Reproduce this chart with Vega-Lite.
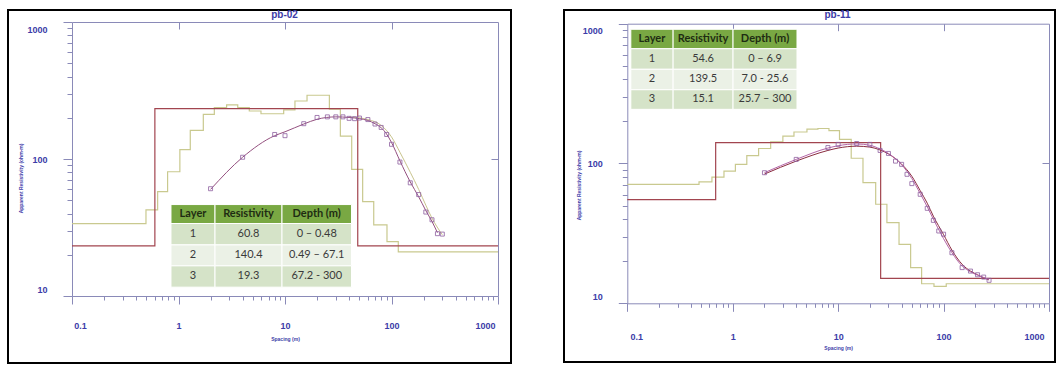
{
  "$schema": "https://vega.github.io/schema/vega-lite/v6.json",
  "background": "white",
  "padding": {"left": 7, "top": 9, "right": 0, "bottom": 0},
  "spacing": 51,
  "config": {
    "view": {"stroke": "#000000", "strokeWidth": 2},
    "font": "Liberation Sans",
    "axis": {
      "domainColor": "#8a8ab8", "tickColor": "#8a8ab8", "labelColor": "#3c3ca8",
      "labelFont": "Liberation Sans", "labelFontWeight": "bold", "labelFontSize": 9,
      "titleColor": "#3c3ca8", "titleFont": "Liberation Sans", "titleFontSize": 5, "titleFontWeight": "bold",
      "grid": false, "labelOverlap": false, "labelFlush": false
    },
    "title": {"color": "#3c3ca8", "font": "Liberation Sans", "fontWeight": "bold", "fontSize": 10, "anchor": "middle"}
  },
  "datasets": {
    "pb02": [
      {"s": "model", "x": 0.1, "y": 23.2}, {"s": "model", "x": 0.6, "y": 233}, {"s": "model", "x": 48.2, "y": 23.2}, {"s": "model", "x": 1000, "y": 23.2},
      {"s": "equiv", "x": 0.1, "y": 33.7}, {"s": "equiv", "x": 0.495, "y": 42.5}, {"s": "equiv", "x": 0.637, "y": 57.7}, {"s": "equiv", "x": 0.79, "y": 80.7},
      {"s": "equiv", "x": 1.03, "y": 117}, {"s": "equiv", "x": 1.29, "y": 162}, {"s": "equiv", "x": 1.71, "y": 212}, {"s": "equiv", "x": 2.17, "y": 237},
      {"s": "equiv", "x": 2.83, "y": 248}, {"s": "equiv", "x": 3.6, "y": 237}, {"s": "equiv", "x": 4.62, "y": 224}, {"s": "equiv", "x": 5.95, "y": 214},
      {"s": "equiv", "x": 9.72, "y": 228}, {"s": "equiv", "x": 12.4, "y": 265}, {"s": "equiv", "x": 16.1, "y": 292}, {"s": "equiv", "x": 26.1, "y": 231},
      {"s": "equiv", "x": 33.1, "y": 147}, {"s": "equiv", "x": 42.3, "y": 84.1}, {"s": "equiv", "x": 53.6, "y": 48.8}, {"s": "equiv", "x": 68.1, "y": 33},
      {"s": "equiv", "x": 90.7, "y": 24.9}, {"s": "equiv", "x": 115.8, "y": 21.0}, {"s": "equiv", "x": 1000, "y": 21.0},
      {"s": "obs", "x": 2, "y": 60.7}, {"s": "obs", "x": 4, "y": 103}, {"s": "obs", "x": 8, "y": 151}, {"s": "obs", "x": 10, "y": 148},
      {"s": "obs", "x": 15, "y": 181}, {"s": "obs", "x": 20, "y": 201}, {"s": "obs", "x": 25, "y": 203}, {"s": "obs", "x": 30, "y": 203},
      {"s": "obs", "x": 35, "y": 203}, {"s": "obs", "x": 40, "y": 198}, {"s": "obs", "x": 45, "y": 197}, {"s": "obs", "x": 50, "y": 199},
      {"s": "obs", "x": 60, "y": 194}, {"s": "obs", "x": 70, "y": 180}, {"s": "obs", "x": 80, "y": 170}, {"s": "obs", "x": 90, "y": 151},
      {"s": "obs", "x": 100, "y": 128}, {"s": "obs", "x": 120, "y": 95}, {"s": "obs", "x": 150, "y": 67}, {"s": "obs", "x": 180, "y": 55},
      {"s": "obs", "x": 210, "y": 41}, {"s": "obs", "x": 240, "y": 36}, {"s": "obs", "x": 270, "y": 28.5}, {"s": "obs", "x": 300, "y": 28.3},
      {"s": "calc", "x": 2, "y": 60}, {"s": "calc", "x": 4, "y": 103}, {"s": "calc", "x": 8, "y": 148}, {"s": "calc", "x": 10, "y": 158},
      {"s": "calc", "x": 15, "y": 180}, {"s": "calc", "x": 20, "y": 195}, {"s": "calc", "x": 30, "y": 203}, {"s": "calc", "x": 40, "y": 201},
      {"s": "calc", "x": 50, "y": 197}, {"s": "calc", "x": 60, "y": 191}, {"s": "calc", "x": 70, "y": 181}, {"s": "calc", "x": 80, "y": 169},
      {"s": "calc", "x": 90, "y": 152}, {"s": "calc", "x": 100, "y": 132}, {"s": "calc", "x": 120, "y": 97}, {"s": "calc", "x": 150, "y": 68},
      {"s": "calc", "x": 180, "y": 53}, {"s": "calc", "x": 210, "y": 42}, {"s": "calc", "x": 240, "y": 35}, {"s": "calc", "x": 270, "y": 29},
      {"s": "calc2", "x": 40, "y": 203}, {"s": "calc2", "x": 60, "y": 194}, {"s": "calc2", "x": 80, "y": 176}, {"s": "calc2", "x": 100, "y": 145},
      {"s": "calc2", "x": 120, "y": 112}, {"s": "calc2", "x": 150, "y": 80}, {"s": "calc2", "x": 180, "y": 60}, {"s": "calc2", "x": 210, "y": 46},
      {"s": "calc2", "x": 240, "y": 37}, {"s": "calc2", "x": 300, "y": 28}
    ],
    "pb02_table": [
      {"tr": "header", "col": "Layer", "text": "Layer", "s0": 0.85, "s1": 2.202, "sc": 1.368, "r0": 46.5, "r1": 33.8, "rc": 39.6},
      {"tr": "header", "col": "Resistivity", "text": "Resistivity", "s0": 2.202, "s1": 9.37, "sc": 4.54, "r0": 46.5, "r1": 33.8, "rc": 39.6},
      {"tr": "header", "col": "Depth", "text": "Depth (m)", "s0": 9.37, "s1": 42.1, "sc": 19.86, "r0": 46.5, "r1": 33.8, "rc": 39.6},
      {"tr": "1", "col": "Layer", "text": "1", "s0": 0.85, "s1": 2.202, "sc": 1.368, "r0": 33.8, "r1": 23.6, "rc": 28.2},
      {"tr": "1", "col": "Resistivity", "text": "60.8", "s0": 2.202, "s1": 9.37, "sc": 4.54, "r0": 33.8, "r1": 23.6, "rc": 28.2},
      {"tr": "1", "col": "Depth", "text": "0 – 0.48", "s0": 9.37, "s1": 42.1, "sc": 19.86, "r0": 33.8, "r1": 23.6, "rc": 28.2},
      {"tr": "2", "col": "Layer", "text": "2", "s0": 0.85, "s1": 2.202, "sc": 1.368, "r0": 23.6, "r1": 16.6, "rc": 19.8},
      {"tr": "2", "col": "Resistivity", "text": "140.4", "s0": 2.202, "s1": 9.37, "sc": 4.54, "r0": 23.6, "r1": 16.6, "rc": 19.8},
      {"tr": "2", "col": "Depth", "text": "0.49 – 67.1", "s0": 9.37, "s1": 42.1, "sc": 19.86, "r0": 23.6, "r1": 16.6, "rc": 19.8},
      {"tr": "3", "col": "Layer", "text": "3", "s0": 0.85, "s1": 2.202, "sc": 1.368, "r0": 16.6, "r1": 11.6, "rc": 13.9},
      {"tr": "3", "col": "Resistivity", "text": "19.3", "s0": 2.202, "s1": 9.37, "sc": 4.54, "r0": 16.6, "r1": 11.6, "rc": 13.9},
      {"tr": "3", "col": "Depth", "text": "67.2 - 300", "s0": 9.37, "s1": 42.1, "sc": 19.86, "r0": 16.6, "r1": 11.6, "rc": 13.9}
    ],
    "pb11": [
      {"s": "model", "x": 0.1, "y": 55.1}, {"s": "model", "x": 0.689, "y": 141}, {"s": "model", "x": 25.3, "y": 15.1}, {"s": "model", "x": 1000, "y": 15.1},
      {"s": "equiv", "x": 0.1, "y": 71.0}, {"s": "equiv", "x": 0.479, "y": 73.8}, {"s": "equiv", "x": 0.635, "y": 80.0}, {"s": "equiv", "x": 0.826, "y": 88.3},
      {"s": "equiv", "x": 1.06, "y": 98.6}, {"s": "equiv", "x": 1.36, "y": 114}, {"s": "equiv", "x": 1.76, "y": 128}, {"s": "equiv", "x": 2.29, "y": 143},
      {"s": "equiv", "x": 2.99, "y": 157}, {"s": "equiv", "x": 3.81, "y": 168}, {"s": "equiv", "x": 5.06, "y": 176}, {"s": "equiv", "x": 6.43, "y": 178},
      {"s": "equiv", "x": 8.18, "y": 172}, {"s": "equiv", "x": 10.3, "y": 149}, {"s": "equiv", "x": 13.3, "y": 109}, {"s": "equiv", "x": 17.2, "y": 72.9},
      {"s": "equiv", "x": 22.7, "y": 51.1}, {"s": "equiv", "x": 29.0, "y": 37.8}, {"s": "equiv", "x": 37.8, "y": 26.4}, {"s": "equiv", "x": 48.7, "y": 18.0},
      {"s": "equiv", "x": 61.9, "y": 13.8}, {"s": "equiv", "x": 81.1, "y": 13.2}, {"s": "equiv", "x": 106, "y": 13.8}, {"s": "equiv", "x": 1000, "y": 13.8},
      {"s": "obs", "x": 2, "y": 85.9}, {"s": "obs", "x": 4, "y": 107}, {"s": "obs", "x": 8, "y": 130}, {"s": "obs", "x": 10, "y": 137},
      {"s": "obs", "x": 15, "y": 139}, {"s": "obs", "x": 20, "y": 137}, {"s": "obs", "x": 25, "y": 124}, {"s": "obs", "x": 30, "y": 118},
      {"s": "obs", "x": 35, "y": 104}, {"s": "obs", "x": 40, "y": 98.6}, {"s": "obs", "x": 45, "y": 83.7}, {"s": "obs", "x": 50, "y": 71.8},
      {"s": "obs", "x": 60, "y": 60.2}, {"s": "obs", "x": 70, "y": 47.8}, {"s": "obs", "x": 80, "y": 39.2}, {"s": "obs", "x": 90, "y": 32.9},
      {"s": "obs", "x": 100, "y": 31.2}, {"s": "obs", "x": 120, "y": 23.0}, {"s": "obs", "x": 150, "y": 18.0}, {"s": "obs", "x": 180, "y": 17.0},
      {"s": "obs", "x": 210, "y": 16.0}, {"s": "obs", "x": 240, "y": 15.4}, {"s": "obs", "x": 270, "y": 14.6},
      {"s": "calc", "x": 2, "y": 86}, {"s": "calc", "x": 4, "y": 107}, {"s": "calc", "x": 8, "y": 129}, {"s": "calc", "x": 10, "y": 134},
      {"s": "calc", "x": 15, "y": 138}, {"s": "calc", "x": 20, "y": 135}, {"s": "calc", "x": 25, "y": 127}, {"s": "calc", "x": 30, "y": 118},
      {"s": "calc", "x": 40, "y": 98}, {"s": "calc", "x": 50, "y": 78}, {"s": "calc", "x": 60, "y": 61}, {"s": "calc", "x": 70, "y": 49},
      {"s": "calc", "x": 80, "y": 40}, {"s": "calc", "x": 100, "y": 29}, {"s": "calc", "x": 120, "y": 23}, {"s": "calc", "x": 150, "y": 18.5},
      {"s": "calc", "x": 180, "y": 16.8}, {"s": "calc", "x": 210, "y": 15.9}, {"s": "calc", "x": 240, "y": 15.3}, {"s": "calc", "x": 270, "y": 14.8},
      {"s": "calc2", "x": 2, "y": 84}, {"s": "calc2", "x": 4, "y": 104}, {"s": "calc2", "x": 8, "y": 124}, {"s": "calc2", "x": 10, "y": 129},
      {"s": "calc2", "x": 15, "y": 133}, {"s": "calc2", "x": 20, "y": 131}, {"s": "calc2", "x": 25, "y": 125}, {"s": "calc2", "x": 30, "y": 117},
      {"s": "calc2", "x": 40, "y": 99}, {"s": "calc2", "x": 50, "y": 81}, {"s": "calc2", "x": 60, "y": 64}, {"s": "calc2", "x": 70, "y": 52},
      {"s": "calc2", "x": 80, "y": 42}, {"s": "calc2", "x": 100, "y": 31}, {"s": "calc2", "x": 120, "y": 24}, {"s": "calc2", "x": 150, "y": 19},
      {"s": "calc2", "x": 180, "y": 17}, {"s": "calc2", "x": 210, "y": 16}, {"s": "calc2", "x": 240, "y": 15.2}, {"s": "calc2", "x": 270, "y": 14.7}
    ],
    "pb11_table": [
      {"tr": "header", "col": "Layer", "text": "Layer", "s0": 0.108, "s1": 0.272, "sc": 0.1714, "r0": 912, "r1": 662, "rc": 777},
      {"tr": "header", "col": "Resistivity", "text": "Resistivity", "s0": 0.272, "s1": 1.007, "sc": 0.5234, "r0": 912, "r1": 662, "rc": 777},
      {"tr": "header", "col": "Depth", "text": "Depth (m)", "s0": 1.007, "s1": 4.07, "sc": 2.024, "r0": 912, "r1": 662, "rc": 777},
      {"tr": "1", "col": "Layer", "text": "1", "s0": 0.108, "s1": 0.272, "sc": 0.1714, "r0": 662, "r1": 472, "rc": 559},
      {"tr": "1", "col": "Resistivity", "text": "54.6", "s0": 0.272, "s1": 1.007, "sc": 0.5234, "r0": 662, "r1": 472, "rc": 559},
      {"tr": "1", "col": "Depth", "text": "0 – 6.9", "s0": 1.007, "s1": 4.07, "sc": 2.024, "r0": 662, "r1": 472, "rc": 559},
      {"tr": "2", "col": "Layer", "text": "2", "s0": 0.108, "s1": 0.272, "sc": 0.1714, "r0": 472, "r1": 337, "rc": 399},
      {"tr": "2", "col": "Resistivity", "text": "139.5", "s0": 0.272, "s1": 1.007, "sc": 0.5234, "r0": 472, "r1": 337, "rc": 399},
      {"tr": "2", "col": "Depth", "text": "7.0 - 25.6", "s0": 1.007, "s1": 4.07, "sc": 2.024, "r0": 472, "r1": 337, "rc": 399},
      {"tr": "3", "col": "Layer", "text": "3", "s0": 0.108, "s1": 0.272, "sc": 0.1714, "r0": 337, "r1": 244, "rc": 287},
      {"tr": "3", "col": "Resistivity", "text": "15.1", "s0": 0.272, "s1": 1.007, "sc": 0.5234, "r0": 337, "r1": 244, "rc": 287},
      {"tr": "3", "col": "Depth", "text": "25.7 – 300", "s0": 1.007, "s1": 4.07, "sc": 2.024, "r0": 337, "r1": 244, "rc": 287}
    ]
  },
  "hconcat": [
    {
      "width": 503, "height": 353,
      "title": {"text": "pb-02", "offset": -10, "dx": 25},
      "resolve": {"axis": {"x": "independent", "y": "independent"}},
      "layer": [
        {
          "data": {"name": "pb02_table"},
          "mark": {"type": "rect", "stroke": "white", "strokeWidth": 1},
          "encoding": {
            "x": {"field": "s0", "type": "quantitative", "scale": {"type": "log", "domain": [0.1, 1000], "range": [64, 490], "nice": false}, "axis": null},
            "x2": {"field": "s1"},
            "y": {"field": "r0", "type": "quantitative", "scale": {"type": "log", "domain": [10, 1000], "range": [286, 12], "nice": false}, "axis": null},
            "y2": {"field": "r1"},
            "color": {"field": "tr", "type": "nominal", "scale": {"domain": ["header", "1", "2", "3"], "range": ["#79a843", "#d5e3c8", "#ebf1e6", "#d5e3c8"]}, "legend": null}
          }
        },
        {
          "data": {"name": "pb02"},
          "transform": [{"filter": "datum.s == 'equiv'"}],
          "mark": {"type": "line", "interpolate": "step-after", "color": "#c9c98f", "strokeWidth": 1.2},
          "encoding": {
            "x": {"field": "x", "type": "quantitative", "scale": {"type": "log", "domain": [0.1, 1000], "range": [64, 490], "nice": false},
              "axis": {"orient": "bottom", "offset": -67,
                "values": [0.1,0.2,0.3,0.4,0.5,0.6,0.7,0.8,0.9,1,2,3,4,5,6,7,8,9,10,20,30,40,50,60,70,80,90,100,200,300,400,500,600,700,800,900,1000],
                "labelExpr": "indexof([0.1,1,10,100,1000], datum.value) >= 0 ? format(datum.value, '~g') : ''",
                "tickSize": {"condition": {"test": "indexof([0.1,1,10,100,1000], datum.value) >= 0", "value": 8}, "value": 4},
                "labelOffset": {"condition": [{"test": "datum.value == 0.1", "value": 8}, {"test": "datum.value == 1000", "value": -13}], "value": 0},
                "labelPadding": 17,
                "title": "Spacing (m)", "titlePadding": 6}},
            "y": {"field": "y", "type": "quantitative", "scale": {"type": "log", "domain": [10, 1000], "range": [286, 12], "nice": false},
              "axis": {"orient": "left", "offset": -64,
                "values": [10,20,30,40,50,60,70,80,90,100,200,300,400,500,600,700,800,900,1000],
                "labelExpr": "indexof([10,100,1000], datum.value) >= 0 ? format(datum.value, '~g') : ''",
                "tickSize": {"condition": {"test": "indexof([10,100,1000], datum.value) >= 0", "value": 9}, "value": 5},
                "labelOffset": {"condition": [{"test": "datum.value == 1000", "value": 7}, {"test": "datum.value == 10", "value": -7}], "value": 0},
                "labelPadding": 16,
                "title": "Apparent Resistivity (ohm-m)", "titleX": -49, "titleY": 168}}
          }
        },
        {
          "data": {"name": "pb02"},
          "transform": [{"filter": "datum.s == 'model'"}],
          "mark": {"type": "line", "interpolate": "step-after", "color": "#a2454f", "strokeWidth": 1.2},
          "encoding": {
            "x": {"field": "x", "type": "quantitative", "scale": {"type": "log", "domain": [0.1, 1000], "range": [64, 490], "nice": false},
              "axis": {"orient": "top", "offset": -12, "values": [1, 10, 100], "labels": false, "tickSize": -7, "title": null}},
            "y": {"field": "y", "type": "quantitative", "scale": {"type": "log", "domain": [10, 1000], "range": [286, 12], "nice": false},
              "axis": {"orient": "right", "offset": -13, "values": [100], "labels": false, "tickSize": -7, "title": null}}
          }
        },
        {
          "data": {"name": "pb02"},
          "transform": [{"filter": "datum.s == 'calc2'"}],
          "mark": {"type": "line", "interpolate": "monotone", "color": "#c9c48e", "strokeWidth": 1},
          "encoding": {
            "x": {"field": "x", "type": "quantitative", "scale": {"type": "log", "domain": [0.1, 1000], "range": [64, 490], "nice": false}, "axis": null},
            "y": {"field": "y", "type": "quantitative", "scale": {"type": "log", "domain": [10, 1000], "range": [286, 12], "nice": false}, "axis": null}
          }
        },
        {
          "data": {"name": "pb02"},
          "transform": [{"filter": "datum.s == 'calc'"}],
          "mark": {"type": "line", "interpolate": "monotone", "color": "#94507f", "strokeWidth": 1},
          "encoding": {
            "x": {"field": "x", "type": "quantitative", "scale": {"type": "log", "domain": [0.1, 1000], "range": [64, 490], "nice": false}, "axis": null},
            "y": {"field": "y", "type": "quantitative", "scale": {"type": "log", "domain": [10, 1000], "range": [286, 12], "nice": false}, "axis": null}
          }
        },
        {
          "data": {"name": "pb02"},
          "transform": [{"filter": "datum.s == 'obs'"}],
          "mark": {"type": "point", "shape": "square", "filled": false, "size": 16, "strokeWidth": 0.8, "color": "#8e5fa0", "opacity": 1},
          "encoding": {
            "x": {"field": "x", "type": "quantitative", "scale": {"type": "log", "domain": [0.1, 1000], "range": [64, 490], "nice": false}, "axis": null},
            "y": {"field": "y", "type": "quantitative", "scale": {"type": "log", "domain": [10, 1000], "range": [286, 12], "nice": false}, "axis": null}
          }
        },
        {
          "data": {"name": "pb02_table"},
          "transform": [{"filter": "datum.tr == 'header'"}],
          "mark": {"type": "text", "font": "Lato", "fontSize": 11, "fontWeight": "bold", "color": "#1e2c12"},
          "encoding": {
            "x": {"field": "sc", "type": "quantitative", "scale": {"type": "log", "domain": [0.1, 1000], "range": [64, 490], "nice": false}, "axis": null},
            "y": {"field": "rc", "type": "quantitative", "scale": {"type": "log", "domain": [10, 1000], "range": [286, 12], "nice": false}, "axis": null},
            "text": {"field": "text"}
          }
        },
        {
          "data": {"name": "pb02_table"},
          "transform": [{"filter": "datum.tr != 'header'"}],
          "mark": {"type": "text", "font": "Lato", "fontSize": 11, "color": "#3a3a3a"},
          "encoding": {
            "x": {"field": "sc", "type": "quantitative", "scale": {"type": "log", "domain": [0.1, 1000], "range": [64, 490], "nice": false}, "axis": null},
            "y": {"field": "rc", "type": "quantitative", "scale": {"type": "log", "domain": [10, 1000], "range": [286, 12], "nice": false}, "axis": null},
            "text": {"field": "text"}
          }
        }
      ]
    },
    {
      "width": 491, "height": 352,
      "title": {"text": "pb-11", "offset": -10, "dx": 28},
      "resolve": {"axis": {"x": "independent", "y": "independent"}},
      "layer": [
        {
          "data": {"name": "pb11_table"},
          "mark": {"type": "rect", "stroke": "white", "strokeWidth": 1},
          "encoding": {
            "x": {"field": "s0", "type": "quantitative", "scale": {"type": "log", "domain": [0.1, 1000], "range": [63.3, 485], "nice": false}, "axis": null},
            "x2": {"field": "s1"},
            "y": {"field": "r0", "type": "quantitative", "scale": {"type": "log", "domain": [10, 1000], "range": [293.3, 13.7], "nice": false}, "axis": null},
            "y2": {"field": "r1"},
            "color": {"field": "tr", "type": "nominal", "scale": {"domain": ["header", "1", "2", "3"], "range": ["#79a843", "#d5e3c8", "#ebf1e6", "#d5e3c8"]}, "legend": null}
          }
        },
        {
          "data": {"name": "pb11"},
          "transform": [{"filter": "datum.s == 'equiv'"}],
          "mark": {"type": "line", "interpolate": "step-after", "color": "#c9c98f", "strokeWidth": 1.2},
          "encoding": {
            "x": {"field": "x", "type": "quantitative", "scale": {"type": "log", "domain": [0.1, 1000], "range": [63.3, 485], "nice": false},
              "axis": {"orient": "bottom", "offset": -58.7,
                "values": [0.1,0.2,0.3,0.4,0.5,0.6,0.7,0.8,0.9,1,2,3,4,5,6,7,8,9,10,20,30,40,50,60,70,80,90,100,200,300,400,500,600,700,800,900,1000],
                "labelExpr": "indexof([0.1,1,10,100,1000], datum.value) >= 0 ? format(datum.value, '~g') : ''",
                "tickSize": {"condition": {"test": "indexof([0.1,1,10,100,1000], datum.value) >= 0", "value": 8}, "value": 4},
                "labelOffset": {"condition": [{"test": "datum.value == 0.1", "value": 9}, {"test": "datum.value == 1000", "value": -15}], "value": 0},
                "labelPadding": 21,
                "title": "Spacing (m)", "titlePadding": 4}},
            "y": {"field": "y", "type": "quantitative", "scale": {"type": "log", "domain": [10, 1000], "range": [293.3, 13.7], "nice": false},
              "axis": {"orient": "left", "offset": -63.3,
                "values": [10,20,30,40,50,60,70,80,90,100,200,300,400,500,600,700,800,900,1000],
                "labelExpr": "indexof([10,100,1000], datum.value) >= 0 ? format(datum.value, '~g') : ''",
                "tickSize": {"condition": {"test": "indexof([10,100,1000], datum.value) >= 0", "value": 9}, "value": 5},
                "labelOffset": {"condition": [{"test": "datum.value == 1000", "value": 7}, {"test": "datum.value == 10", "value": -7}], "value": 0},
                "labelPadding": 16,
                "title": "Apparent Resistivity (ohm-m)", "titleX": -46, "titleY": 175}}
          }
        },
        {
          "data": {"name": "pb11"},
          "transform": [{"filter": "datum.s == 'model'"}],
          "mark": {"type": "line", "interpolate": "step-after", "color": "#a2454f", "strokeWidth": 1.2},
          "encoding": {
            "x": {"field": "x", "type": "quantitative", "scale": {"type": "log", "domain": [0.1, 1000], "range": [63.3, 485], "nice": false},
              "axis": {"orient": "top", "offset": -13.7, "values": [1, 10, 100], "labels": false, "tickSize": -7, "title": null}},
            "y": {"field": "y", "type": "quantitative", "scale": {"type": "log", "domain": [10, 1000], "range": [293.3, 13.7], "nice": false},
              "axis": {"orient": "right", "offset": -6, "values": [100], "labels": false, "tickSize": -7, "title": null}}
          }
        },
        {
          "data": {"name": "pb11"},
          "transform": [{"filter": "datum.s == 'calc2'"}],
          "mark": {"type": "line", "interpolate": "monotone", "color": "#8a2c40", "strokeWidth": 1},
          "encoding": {
            "x": {"field": "x", "type": "quantitative", "scale": {"type": "log", "domain": [0.1, 1000], "range": [63.3, 485], "nice": false}, "axis": null},
            "y": {"field": "y", "type": "quantitative", "scale": {"type": "log", "domain": [10, 1000], "range": [293.3, 13.7], "nice": false}, "axis": null}
          }
        },
        {
          "data": {"name": "pb11"},
          "transform": [{"filter": "datum.s == 'calc'"}],
          "mark": {"type": "line", "interpolate": "monotone", "color": "#b565a8", "strokeWidth": 1},
          "encoding": {
            "x": {"field": "x", "type": "quantitative", "scale": {"type": "log", "domain": [0.1, 1000], "range": [63.3, 485], "nice": false}, "axis": null},
            "y": {"field": "y", "type": "quantitative", "scale": {"type": "log", "domain": [10, 1000], "range": [293.3, 13.7], "nice": false}, "axis": null}
          }
        },
        {
          "data": {"name": "pb11"},
          "transform": [{"filter": "datum.s == 'obs'"}],
          "mark": {"type": "point", "shape": "square", "filled": false, "size": 16, "strokeWidth": 0.8, "color": "#8e5fa0", "opacity": 1},
          "encoding": {
            "x": {"field": "x", "type": "quantitative", "scale": {"type": "log", "domain": [0.1, 1000], "range": [63.3, 485], "nice": false}, "axis": null},
            "y": {"field": "y", "type": "quantitative", "scale": {"type": "log", "domain": [10, 1000], "range": [293.3, 13.7], "nice": false}, "axis": null}
          }
        },
        {
          "data": {"name": "pb11_table"},
          "transform": [{"filter": "datum.tr == 'header'"}],
          "mark": {"type": "text", "font": "Lato", "fontSize": 11, "fontWeight": "bold", "color": "#1e2c12"},
          "encoding": {
            "x": {"field": "sc", "type": "quantitative", "scale": {"type": "log", "domain": [0.1, 1000], "range": [63.3, 485], "nice": false}, "axis": null},
            "y": {"field": "rc", "type": "quantitative", "scale": {"type": "log", "domain": [10, 1000], "range": [293.3, 13.7], "nice": false}, "axis": null},
            "text": {"field": "text"}
          }
        },
        {
          "data": {"name": "pb11_table"},
          "transform": [{"filter": "datum.tr != 'header'"}],
          "mark": {"type": "text", "font": "Lato", "fontSize": 11, "color": "#3a3a3a"},
          "encoding": {
            "x": {"field": "sc", "type": "quantitative", "scale": {"type": "log", "domain": [0.1, 1000], "range": [63.3, 485], "nice": false}, "axis": null},
            "y": {"field": "rc", "type": "quantitative", "scale": {"type": "log", "domain": [10, 1000], "range": [293.3, 13.7], "nice": false}, "axis": null},
            "text": {"field": "text"}
          }
        }
      ]
    }
  ]
}
